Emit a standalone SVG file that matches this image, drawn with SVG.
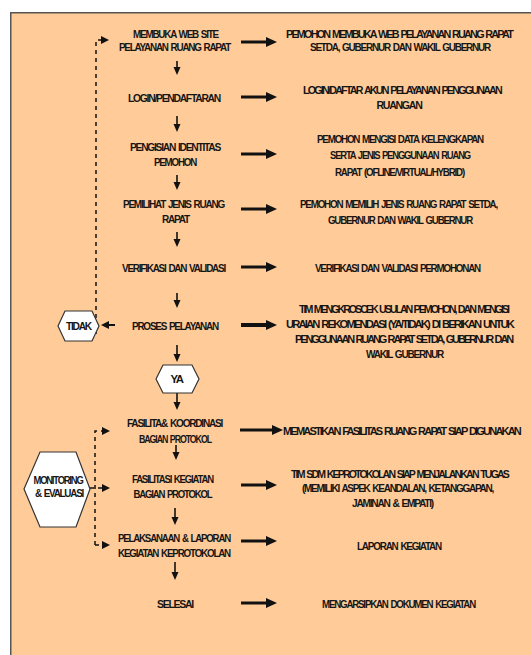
<svg xmlns="http://www.w3.org/2000/svg" width="531" height="655" viewBox="0 0 531 655">
<defs>
<marker id="hR" markerUnits="userSpaceOnUse" markerWidth="14" markerHeight="14" viewBox="0 -7 14 14" refX="1" refY="0" orient="auto"><path d="M0,-5 L11,0 L0,5 z" fill="#111"/></marker>
<marker id="hD" markerUnits="userSpaceOnUse" markerWidth="10" markerHeight="10" viewBox="0 -5 10 10" refX="1" refY="0" orient="auto"><path d="M0,-3.5 L8,0 L0,3.5 z" fill="#111"/></marker>
<marker id="hS" markerUnits="userSpaceOnUse" markerWidth="10" markerHeight="10" viewBox="0 -5 10 10" refX="1" refY="0" orient="auto"><path d="M0,-4 L8,0 L0,4 z" fill="#111"/></marker>
</defs>
<style>
text{font-family:"Liberation Sans",Arial,sans-serif;font-weight:bold;font-size:11.5px;fill:#151515;text-anchor:middle;letter-spacing:-1.4px;word-spacing:1.5px}
.t{letter-spacing:-1.9px;word-spacing:1.5px}
.t2{font-size:11px;letter-spacing:-2.1px;word-spacing:1.5px}
.bg{fill:#FFCB99;stroke:#555;stroke-width:1.5}
.hex{fill:#fff;stroke:#333;stroke-width:1.2}
.ar{stroke:#111;stroke-width:3;fill:none;marker-end:url(#hR)}
.ar4{stroke:#111;stroke-width:4;fill:none;marker-end:url(#hR)}
.dn{stroke:#111;stroke-width:1.6;fill:none;marker-end:url(#hD)}
.ds{stroke:#111;stroke-width:1.5;fill:none;stroke-dasharray:4 4;marker-end:url(#hS)}
.sl{stroke:#111;stroke-width:2;fill:none;marker-end:url(#hS)}
</style>
<rect x="0" y="0" width="531" height="655" fill="#fff"/>
<rect class="bg" x="10.75" y="12.75" width="530" height="660"/>

<g id="connectors">
<path class="dn" d="M177,61 V68"/>
<path class="dn" d="M177,116 V125"/>
<path class="dn" d="M177,175 V183"/>
<path class="dn" d="M177,232 V240"/>
<path class="dn" d="M177,293 V301"/>
<path class="dn" d="M177,345 V355"/>
<path class="dn" d="M177,393 V403"/>
<path class="dn" d="M176,445 V453"/>
<path class="dn" d="M175,508 V518"/>
<path class="dn" d="M175,562 V573"/>

<path class="ar" d="M241,42 H267"/>
<path class="ar" d="M241,97 H267"/>
<path class="ar" d="M241,154 H267"/>
<path class="ar" d="M241,209 H267"/>
<path class="ar" d="M241,267 H267"/>
<path class="ar4" d="M241,325 H267"/>
<path class="ar" d="M240,430 H273"/>
<path class="ar" d="M241,485 H267"/>
<path class="ar" d="M241,541 H267"/>
<path class="ar" d="M241,603 H267"/>

<path class="sl" d="M115,325 H108"/>
<path class="ds" d="M96,334 V40 H102"/>
<path class="ds" d="M95,545 V431 H103"/>
<path class="ds" d="M90,488 H103"/>
<path class="ds" d="M95,545 H103"/>
</g>

<g id="n1"><text x="175.5" y="37.5" textLength="85" lengthAdjust="spacingAndGlyphs">MEMBUKA WEB SITE</text><text x="174.5" y="50.5" textLength="111" lengthAdjust="spacingAndGlyphs">PELAYANAN RUANG RAPAT</text></g>
<g id="d1"><text class="t" x="399" y="37.5" textLength="226" lengthAdjust="spacingAndGlyphs">PEMOHON MEMBUKA WEB PELAYANAN RUANG RAPAT</text><text x="400" y="50.5" textLength="180" lengthAdjust="spacingAndGlyphs">SETDA, GUBERNUR DAN WAKIL GUBERNUR</text></g>

<g id="n2"><text x="174" y="101.5" textLength="92" lengthAdjust="spacingAndGlyphs">LOGIN/PENDAFTARAN</text></g>
<g id="d2"><text class="t" x="402" y="93.5" textLength="198" lengthAdjust="spacingAndGlyphs">LOGIN/DAFTAR AKUN PELAYANAN PENGGUNAAN</text><text x="399" y="108.5" textLength="45" lengthAdjust="spacingAndGlyphs">RUANGAN</text></g>

<g id="n3"><text x="175" y="150.5" textLength="90" lengthAdjust="spacingAndGlyphs">PENGISIAN IDENTITAS</text><text x="175" y="165.5" textLength="42" lengthAdjust="spacingAndGlyphs">PEMOHON</text></g>
<g id="d3"><text x="400" y="142.5" textLength="166" lengthAdjust="spacingAndGlyphs">PEMOHON MENGISI DATA KELENGKAPAN</text><text x="400" y="158.5" textLength="140" lengthAdjust="spacingAndGlyphs">SERTA JENIS PENGGUNAAN RUANG</text><text x="399.5" y="175.5" textLength="129" lengthAdjust="spacingAndGlyphs">RAPAT (OFLINE/VIRTUAL/HYBRID)</text></g>

<g id="n4"><text x="173.5" y="207.5" textLength="101" lengthAdjust="spacingAndGlyphs">PEMILIHAT JENIS RUANG</text><text x="175.5" y="222.5" textLength="27" lengthAdjust="spacingAndGlyphs">RAPAT</text></g>
<g id="d4"><text x="398.5" y="207.5" textLength="197" lengthAdjust="spacingAndGlyphs">PEMOHON MEMILIH JENIS RUANG RAPAT SETDA,</text><text x="400" y="223.5" textLength="144" lengthAdjust="spacingAndGlyphs">GUBERNUR DAN WAKIL GUBERNUR</text></g>

<g id="n5"><text x="173.5" y="271.5" textLength="103" lengthAdjust="spacingAndGlyphs">VERIFIKASI DAN VALIDASI</text></g>
<g id="d5"><text x="397.5" y="271.5" textLength="165" lengthAdjust="spacingAndGlyphs">VERIFIKASI DAN VALIDASI PERMOHONAN</text></g>

<g id="n6"><text x="175" y="329.5" textLength="86" lengthAdjust="spacingAndGlyphs">PROSES PELAYANAN</text></g>
<g id="d6"><text class="t2" x="403.5" y="312.5" textLength="209" lengthAdjust="spacingAndGlyphs">TIM MENGKROSCEK USULAN PEMOHON, DAN MENGISI</text><text class="t" x="399.5" y="327.5" textLength="227" lengthAdjust="spacingAndGlyphs">URAIAN REKOMENDASI (YA/TIDAK) DI BERIKAN UNTUK</text><text class="t2" x="403.5" y="342.5" textLength="217" lengthAdjust="spacingAndGlyphs">PENGGUNAAN RUANG RAPAT SETDA, GUBERNUR DAN</text><text x="404.5" y="357.5" textLength="77" lengthAdjust="spacingAndGlyphs">WAKIL GUBERNUR</text></g>

<g id="tidak"><polygon class="hex" points="58,326 65,311 92,311 99,326 92,341 65,341"/><text x="78.5" y="330" textLength="25" lengthAdjust="spacingAndGlyphs">TIDAK</text></g>
<g id="ya"><polygon class="hex" points="156,379 163,365 192,365 199,379 192,393 163,393"/><text x="176.5" y="383" textLength="12" lengthAdjust="spacingAndGlyphs">YA</text></g>
<g id="monev"><polygon class="hex" points="24,489 40,452 76,452 90,489 76,527 40,527"/><text x="58" y="483.5" textLength="49" lengthAdjust="spacingAndGlyphs" style="font-size:11px">MONITORING</text><text x="59" y="497" textLength="48" lengthAdjust="spacingAndGlyphs" style="font-size:11px">&amp; EVALUASI</text></g>

<g id="n7"><text x="174.5" y="426.5" textLength="95" lengthAdjust="spacingAndGlyphs">FASILITA&amp; KOORDINASI</text><text x="175" y="442.5" textLength="72" lengthAdjust="spacingAndGlyphs">BAGIAN PROTOKOL</text></g>
<g id="d7"><text class="t" x="401.5" y="434.5" textLength="237" lengthAdjust="spacingAndGlyphs">MEMASTIKAN FASILITAS RUANG RAPAT SIAP DIGUNAKAN</text></g>

<g id="n8"><text x="172.5" y="482.5" textLength="81" lengthAdjust="spacingAndGlyphs">FASILITASI KEGIATAN</text><text x="172.5" y="497.5" textLength="78" lengthAdjust="spacingAndGlyphs">BAGIAN PROTOKOL</text></g>
<g id="d8"><text class="t" x="399.5" y="478" textLength="217" lengthAdjust="spacingAndGlyphs" style="font-size:11px">TIM SDM KEPROTOKOLAN SIAP MENJALANKAN TUGAS</text><text x="397.5" y="492" textLength="191" lengthAdjust="spacingAndGlyphs" style="font-size:11px">(MEMILIKI ASPEK KEANDALAN, KETANGGAPAN,</text><text x="392.5" y="506.5" textLength="81" lengthAdjust="spacingAndGlyphs">JAMINAN &amp; EMPATI)</text></g>

<g id="n9"><text x="174" y="541.5" textLength="112" lengthAdjust="spacingAndGlyphs">PELAKSANAAN &amp; LAPORAN</text><text x="174" y="556.5" textLength="112" lengthAdjust="spacingAndGlyphs">KEGIATAN KEPROTOKOLAN</text></g>
<g id="d9"><text x="399" y="549.5" textLength="84" lengthAdjust="spacingAndGlyphs">LAPORAN KEGIATAN</text></g>

<g id="n10"><text x="175" y="607.5" textLength="36" lengthAdjust="spacingAndGlyphs">SELESAI</text></g>
<g id="d10"><text x="398.5" y="607.5" textLength="153" lengthAdjust="spacingAndGlyphs">MENGARSIPKAN DOKUMEN KEGIATAN</text></g>
</svg>
